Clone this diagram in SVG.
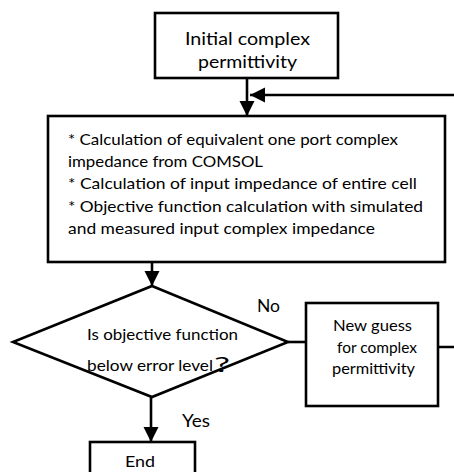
<svg xmlns="http://www.w3.org/2000/svg" width="454" height="472" viewBox="0 0 454 472">
<style>
.box{fill:#fff;stroke:#000;stroke-width:2.6}
.ln{fill:none;stroke:#000;stroke-width:2.6}
text{font-family:Lato,"Liberation Sans",sans-serif;fill:#000}
</style>
<defs>
<marker id="ah" markerUnits="userSpaceOnUse" markerWidth="16" markerHeight="16" refX="15" refY="7.5" orient="auto">
<path d="M0,0 L15,7.5 L0,15 z" fill="#000"/>
</marker>
</defs>
<rect width="454" height="472" fill="#fff"/>
<g id="connectors">
<line class="ln" x1="247" y1="78" x2="247" y2="116" marker-end="url(#ah)"/>
<path class="ln" d="M438,347 H464 V95 H250" marker-end="url(#ah)"/>
<line class="ln" x1="152" y1="262" x2="152" y2="286" marker-end="url(#ah)"/>
<line class="ln" x1="288" y1="342" x2="306" y2="342"/>
<line class="ln" x1="151" y1="397" x2="151" y2="442" marker-end="url(#ah)"/>
<text x="257" y="312" font-size="17" textLength="23" lengthAdjust="spacingAndGlyphs">No</text>
<text x="182" y="427" font-size="17" textLength="28" lengthAdjust="spacingAndGlyphs">Yes</text>
</g>
<g id="start">
<rect class="box" x="155" y="13" width="183" height="65"/>
<text x="185" y="45" font-size="18" textLength="125" lengthAdjust="spacingAndGlyphs">Initial complex</text>
<text x="198" y="68" font-size="18" textLength="99" lengthAdjust="spacingAndGlyphs">permittivity</text>
</g>
<g id="calc">
<rect class="box" x="48" y="116" width="397" height="146"/>
<text x="68" y="145" font-size="16" textLength="330" lengthAdjust="spacingAndGlyphs">* Calculation of equivalent one port complex</text>
<text x="68" y="167" font-size="16" textLength="195" lengthAdjust="spacingAndGlyphs">impedance from COMSOL</text>
<text x="68" y="189" font-size="16" textLength="349" lengthAdjust="spacingAndGlyphs">* Calculation of input impedance of entire cell</text>
<text x="68" y="212" font-size="16" textLength="355" lengthAdjust="spacingAndGlyphs">* Objective function calculation with simulated</text>
<text x="68" y="234" font-size="16" textLength="307" lengthAdjust="spacingAndGlyphs">and measured input complex impedance</text>
</g>
<g id="decision">
<polygon class="box" points="152,286 288,342 152,397 13,342"/>
<text x="87" y="340" font-size="16" textLength="151" lengthAdjust="spacingAndGlyphs">Is objective function</text>
<text x="87" y="371" font-size="16" textLength="126" lengthAdjust="spacingAndGlyphs">below error level</text>
<text x="214" y="372" font-size="22" textLength="16" lengthAdjust="spacingAndGlyphs">?</text>
</g>
<g id="newguess">
<rect class="box" x="306" y="303" width="132" height="103"/>
<text x="333" y="331" font-size="15" textLength="79" lengthAdjust="spacingAndGlyphs">New guess</text>
<text x="337" y="353" font-size="15" textLength="80" lengthAdjust="spacingAndGlyphs">for complex</text>
<text x="332" y="374" font-size="15" textLength="83" lengthAdjust="spacingAndGlyphs">permittivity</text>
</g>
<g id="end">
<rect class="box" x="90" y="442" width="105" height="40"/>
<text x="125" y="467" font-size="16" textLength="30" lengthAdjust="spacingAndGlyphs">End</text>
</g>
</svg>
